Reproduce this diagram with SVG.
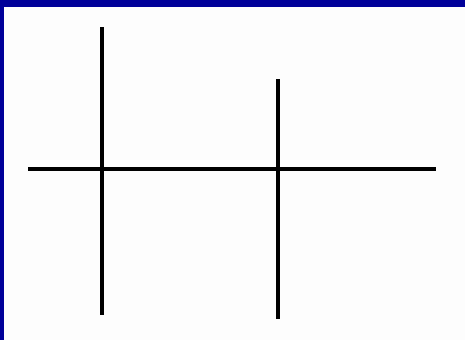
<svg xmlns="http://www.w3.org/2000/svg" width="465" height="340" viewBox="0 0 465 340">
<style>.ln{stroke:#000;stroke-width:4;fill:none}</style>
<rect x="0" y="0" width="465" height="340" fill="#FDFDFD"/>
<rect x="0" y="0" width="465" height="7" fill="#000099"/>
<rect x="0" y="0" width="4" height="340" fill="#000099"/>
<g id="connectors">
<line class="ln" x1="28" y1="169" x2="436" y2="169"/>
<line class="ln" x1="102" y1="27" x2="102" y2="315"/>
<line class="ln" x1="278" y1="79" x2="278" y2="319"/>
</g>
</svg>
